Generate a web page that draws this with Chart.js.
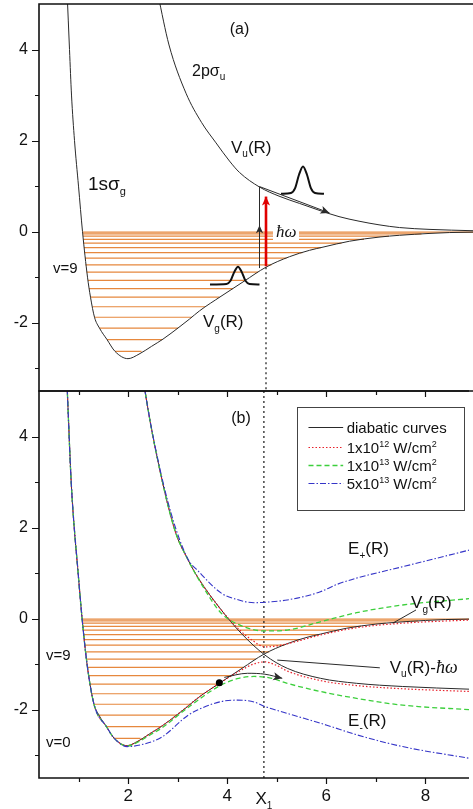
<!DOCTYPE html>
<html>
<head>
<meta charset="utf-8">
<script src="https://cdn.jsdelivr.net/npm/chart.js@4.4.1/dist/chart.umd.min.js"></script>
<style>
html, body { margin: 0; padding: 0; background: #fff; overflow: hidden; }
#wrap { position: relative; width: 473px; height: 809px; }
canvas { position: absolute; left: 0; }
#ca { top: 0; }
#cb { top: 380px; }
</style>
</head>
<body>
<div id="wrap">
  <canvas id="cb" width="473" height="429"></canvas>
  <canvas id="ca" width="473" height="392"></canvas>
</div>
<script>
const FONT = '"Liberation Sans", Arial, sans-serif';
const SERIF = '"Liberation Serif", "Times New Roman", serif';

// axes
const xMin = 0.2, xMax = 8.88, yMin = -3.5, yMax = 5;
const xTickVals = [1, 2, 3, 4, 5, 6, 7, 8];
const xTickLabels = ['', '2', '', '4', '', '6', '', '8'];
const yTickVals = [-3, -2, -1, 0, 1, 2, 3, 4];
const yTickLabels = ['', '-2', '', '0', '', '2', '', '4'];
const X1 = 4.74;

// 1s sigma_g : Vg(R)
const vgR = [0.76, 0.81, 0.85, 0.91, 0.99, 1.07, 1.17, 1.23, 1.31, 1.41, 1.56, 1.72, 1.98, 2.2, 2.45, 2.68, 3.0, 3.21, 3.41, 3.84, 4.3, 4.74, 5.21, 5.61, 5.88, 6.41, 7.0, 7.41, 8.0, 8.41, 8.9];
const vgE = [5.3, 4.0, 3.0, 2.0, 1.0, 0.0, -1.0, -1.44, -1.88, -2.12, -2.37, -2.63, -2.79, -2.69, -2.52, -2.36, -2.1, -1.92, -1.74, -1.42, -1.09, -0.78, -0.55, -0.41, -0.34, -0.21, -0.12, -0.08, -0.04, -0.02, -0.01];

// 2p sigma_u : Vu(R)  (panel a)
const vuR = [2.58, 2.8, 3.14, 3.45, 3.74, 4.01, 4.21, 4.61, 5.0, 5.41, 5.8, 6.2, 6.6, 7.0, 7.41, 8.0, 8.9];
const vuE = [5.2, 4.1, 3.04, 2.4, 1.95, 1.55, 1.3, 0.98, 0.78, 0.62, 0.47, 0.33, 0.23, 0.15, 0.09, 0.05, 0.02];

// Vu(R) - hw  (panel b, diabatic)
const vdR = [2.30, 2.34, 2.54, 2.94, 3.21, 3.41, 3.88, 4.28, 4.76, 5.21, 5.88, 6.61, 7.54, 8.9];
const vdE = [5.3, 5.0, 3.78, 1.95, 1.29, 0.9, 0.19, -0.32, -0.80, -1.09, -1.31, -1.42, -1.49, -1.55];

// adiabatic curves, 1e12 W/cm2
const r12upR = [2.30, 2.34, 2.54, 2.94, 3.21, 3.41, 3.88, 4.28, 4.5, 4.76, 5.0, 5.4, 5.88, 6.61, 7.54, 8.9];
const r12upE = [5.3, 5.0, 3.78, 1.95, 1.29, 0.9, 0.19, -0.28, -0.47, -0.62, -0.6, -0.5, -0.36, -0.2, -0.1, -0.03];
const r12loR = [0.76, 0.85, 0.99, 1.07, 1.17, 1.31, 1.56, 1.72, 1.98, 2.2, 2.45, 2.68, 3.0, 3.41, 3.84, 4.3, 4.55, 4.76, 5.0, 5.21, 5.88, 6.61, 7.54, 8.9];
const r12loE = [5.3, 3.0, 1.0, 0.0, -1.0, -1.88, -2.37, -2.63, -2.79, -2.69, -2.52, -2.36, -2.1, -1.74, -1.42, -1.12, -0.99, -0.95, -1.03, -1.15, -1.36, -1.47, -1.54, -1.6];

// 1e13 W/cm2
const g13upR = [2.30, 2.34, 2.54, 2.94, 3.21, 3.5, 3.88, 4.34, 4.76, 5.21, 5.88, 6.61, 7.54, 8.9];
const g13upE = [5.3, 5.0, 3.78, 1.95, 1.29, 0.72, 0.12, -0.18, -0.27, -0.25, -0.07, 0.13, 0.30, 0.44];
const g13loR = [0.76, 0.85, 0.99, 1.07, 1.17, 1.31, 1.56, 1.72, 1.98, 2.2, 2.45, 2.68, 3.21, 3.84, 4.2, 4.54, 4.9, 5.21, 5.88, 6.61, 7.54, 8.9];
const g13loE = [5.3, 3.0, 1.0, 0.0, -1.0, -1.88, -2.37, -2.63, -2.80, -2.71, -2.55, -2.4, -1.95, -1.48, -1.32, -1.27, -1.31, -1.42, -1.6, -1.75, -1.9, -2.0];

// 5e13 W/cm2
const b53upR = [2.30, 2.34, 2.54, 2.87, 3.21, 3.41, 3.88, 4.2, 4.54, 4.76, 5.21, 5.88, 6.21, 6.61, 7.54, 8.9];
const b53upE = [5.3, 5.0, 3.8, 2.3, 1.3, 1.05, 0.56, 0.42, 0.35, 0.36, 0.41, 0.59, 0.75, 0.89, 1.14, 1.51];
const b53loR = [0.76, 0.85, 0.99, 1.07, 1.17, 1.31, 1.56, 1.72, 1.98, 2.3, 2.68, 3.21, 3.41, 3.88, 4.2, 4.54, 4.76, 5.21, 6.01, 6.61, 7.54, 8.9];
const b53loE = [5.3, 3.0, 1.0, 0.0, -1.0, -1.88, -2.37, -2.63, -2.81, -2.76, -2.6, -2.12, -2.0, -1.82, -1.79, -1.83, -1.93, -2.08, -2.34, -2.55, -2.81, -3.07];

// vibrational levels v=0..17
const levelE = [-2.63, -2.37, -2.12, -1.88, -1.65, -1.44, -1.25, -1.07, -0.89, -0.73, -0.58, -0.46, -0.35, -0.25, -0.17, -0.10, -0.05, -0.01];
const levelL = [1.72, 1.56, 1.41, 1.31, 1.27, 1.23, 1.20, 1.18, 1.15, 1.13, 1.12, 1.11, 1.10, 1.09, 1.09, 1.08, 1.08, 1.07];
const levelR = [2.25, 2.66, 2.98, 3.26, 3.52, 3.81, 4.08, 4.33, 4.58, 4.85, 5.15, 5.47, 5.84, 6.25, 6.7, 7.2, 7.85, 8.88];

// wave packets (panel a)
const wp1R = [3.62, 3.95, 4.03, 4.1, 4.18, 4.26, 4.33, 4.41, 4.61];
const wp1E = [-1.16, -1.15, -1.08, -0.9, -0.77, -0.9, -1.08, -1.15, -1.16];
const wp2R = [5.04, 5.24, 5.32, 5.40, 5.48, 5.56, 5.64, 5.72, 5.9];
const wp2E = [0.83, 0.85, 0.95, 1.25, 1.43, 1.25, 0.95, 0.85, 0.83];

// arrows
const upArrowR = [4.61, 4.61], upArrowE = [-0.8, 0.14];
const slideR = [4.61, 4.61, 6.01], slideE = [0.1, 0.99, 0.41];
const photonR = [X1, X1], photonE = [-0.76, 0.77];
const moveR = [3.94, 4.41, 4.76, 5.11], moveE = [-1.29, -1.2, -1.22, -1.31];
const dotR = [3.84], dotE = [-1.41];
const ptrVgR = [7.81, 7.34], ptrVgE = [0.19, -0.10];
const ptrVuR = [5.01, 7.08], ptrVuE = [-0.91, -1.08];

const legendNames = ['diabatic curves', '1x10^{12} W/cm^{2}', '1x10^{13} W/cm^{2}', '5x10^{13} W/cm^{2}'];

const BLACK = { borderColor: '#2a2a2a', borderWidth: 1 };
const RED = { borderColor: '#e8202a', borderWidth: 1.2, borderDash: [1.5, 2] };
const GREEN = { borderColor: '#3ccf3c', borderWidth: 1.3, borderDash: [5, 3] };
const BLUE = { borderColor: '#3535c8', borderWidth: 1.1, borderDash: [6, 2, 1.5, 2] };
const ORANGE = '#e6883e';

function pts(xs, ys) { return xs.map((x, i) => ({ x: x, y: ys[i] })); }

function curve(xs, ys, style, extra) {
  return Object.assign({
    data: pts(xs, ys), showLine: true, pointRadius: 0, fill: false,
    cubicInterpolationMode: 'monotone'
  }, style, extra || {});
}

function straight(xs, ys, style, extra) {
  return Object.assign({
    data: pts(xs, ys), showLine: true, pointRadius: 0, fill: false, tension: 0
  }, style, extra || {});
}

function levelsData() {
  const d = [];
  levelE.forEach((e, i) => {
    d.push({ x: levelL[i], y: e });
    d.push({ x: levelR[i], y: e });
    d.push({ x: levelR[i] + 0.001, y: null });
  });
  return d;
}

function drawRich(ctx, str, x, y, size, align, family) {
  family = family || FONT;
  const parts = [];
  const re = /([_^])\{([^}]*)\}|\*([^*]*)\*|([^_^*]+)/g;
  let m;
  while ((m = re.exec(str))) {
    if (m[4]) parts.push({ t: m[4], k: 0 });
    else if (m[3]) parts.push({ t: m[3], k: 0, it: true });
    else parts.push({ t: m[2], k: m[1] === '_' ? -1 : 1 });
  }
  let w = 0;
  parts.forEach(p => {
    const s = p.k ? Math.round(size * 0.6) : size;
    p.font = p.it ? 'italic ' + (size + 1) + 'px ' + SERIF : s + 'px ' + family;
    ctx.font = p.font;
    p.w = ctx.measureText(p.t).width;
    w += p.w;
  });
  let cx = align === 'center' ? x - w / 2 : align === 'right' ? x - w : x;
  const base = y + size * 0.36;
  ctx.textAlign = 'left';
  ctx.textBaseline = 'alphabetic';
  parts.forEach(p => {
    ctx.font = p.font;
    const dy = p.k === -1 ? size * 0.28 : p.k === 1 ? -size * 0.42 : 0;
    ctx.fillText(p.t, cx, base + dy);
    cx += p.w;
  });
  return w;
}

const framePlugin = {
  id: 'frame',
  afterDatasetsDraw(chart, args, opts) {
    const { ctx, chartArea: a, scales: { x, y } } = chart;
    ctx.save();
    ctx.strokeStyle = '#111';
    ctx.lineWidth = 1.6;
    ctx.beginPath();
    ctx.moveTo(a.left, a.top); ctx.lineTo(a.right, a.top);
    ctx.moveTo(a.left, a.top - 0.8); ctx.lineTo(a.left, a.bottom + 0.8);
    ctx.moveTo(a.left, a.bottom); ctx.lineTo(a.right, a.bottom);
    ctx.stroke();
    ctx.lineWidth = 1.2;
    ctx.beginPath();
    yTickVals.forEach(v => {
      const py = Math.round(y.getPixelForValue(v)) + 0.5;
      const len = v % 2 === 0 ? 7 : 4;
      ctx.moveTo(a.left - len, py); ctx.lineTo(a.left, py);
    });
    if (opts.xTicks) {
      xTickVals.forEach(v => {
        const px = Math.round(x.getPixelForValue(v)) + 0.5;
        const len = v % 2 === 0 ? 6 : 4;
        ctx.moveTo(px, a.top); ctx.lineTo(px, a.top + len);
        ctx.moveTo(px, a.bottom); ctx.lineTo(px, a.bottom + len);
      });
    }
    ctx.stroke();
    ctx.restore();
  }
};

const arrowPlugin = {
  id: 'arrows',
  afterDatasetsDraw(chart) {
    const ctx = chart.ctx;
    chart.data.datasets.forEach((ds, i) => {
      if (!ds.arrow) return;
      const el = chart.getDatasetMeta(i).data;
      const p1 = el[el.length - 2], p2 = el[el.length - 1];
      const ang = Math.atan2(p2.y - p1.y, p2.x - p1.x);
      const L = ds.arrow, W = ds.arrow * 0.45;
      ctx.save();
      ctx.fillStyle = ds.borderColor;
      ctx.translate(p2.x, p2.y);
      ctx.rotate(ang);
      ctx.beginPath();
      ctx.moveTo(0, 0); ctx.lineTo(-L, -W); ctx.lineTo(-L * 0.75, 0); ctx.lineTo(-L, W);
      ctx.closePath();
      ctx.fill();
      ctx.restore();
    });
  }
};

const textPlugin = {
  id: 'texts',
  afterDatasetsDraw(chart, args, opts) {
    const { ctx, scales: { x, y } } = chart;
    ctx.save();
    ctx.fillStyle = '#111';
    (opts.items || []).forEach(it => {
      const px = x.getPixelForValue(it.x), py = y.getPixelForValue(it.y);
      if (it.box) {
        ctx.fillStyle = '#fff';
        ctx.fillRect(px - 3, py - it.size * 0.55, it.box, it.size * 1.1);
        ctx.fillStyle = '#111';
      }
      drawRich(ctx, it.t, px, py, it.size, it.align || 'left');
    });
    if (opts.legend) {
      const lg = opts.legend;
      const l = x.getPixelForValue(lg.x0), r = x.getPixelForValue(lg.x1);
      const t = y.getPixelForValue(lg.y0), b = y.getPixelForValue(lg.y1);
      ctx.strokeStyle = '#444';
      ctx.lineWidth = 1;
      ctx.strokeRect(Math.round(l) + 0.5, Math.round(t) + 0.5, Math.round(r - l), Math.round(b - t));
      const styles = [BLACK, RED, GREEN, BLUE];
      legendNames.forEach((name, i) => {
        const py = Math.round(y.getPixelForValue(lg.rows[i])) + 0.5;
        ctx.save();
        ctx.strokeStyle = styles[i].borderColor;
        ctx.lineWidth = styles[i].borderWidth;
        ctx.setLineDash(styles[i].borderDash || []);
        ctx.beginPath();
        ctx.moveTo(x.getPixelForValue(lg.s0), py);
        ctx.lineTo(x.getPixelForValue(lg.s1), py);
        ctx.stroke();
        ctx.restore();
        ctx.fillStyle = '#111';
        drawRich(ctx, name, x.getPixelForValue(lg.tx), py, 15, 'left');
      });
    }
    if (opts.x1) {
      const px = x.getPixelForValue(X1);
      drawRich(ctx, 'X_{1}', px, chart.chartArea.bottom + 20, 17, 'center');
    }
    ctx.restore();
  }
};

function scales(showX) {
  return {
    x: {
      type: 'linear', min: xMin, max: xMax, display: showX,
      grid: { display: false, drawTicks: false }, border: { display: false },
      afterBuildTicks: s => { s.ticks = xTickVals.map(v => ({ value: v })); },
      afterFit: s => { s.height = showX ? 31 : 0; s.paddingLeft = 0; s.paddingRight = 0; },
      ticks: {
        padding: 8, color: '#111', autoSkip: false, maxRotation: 0,
        font: { size: 17, family: FONT },
        callback: (v, i) => xTickLabels[i]
      }
    },
    y: {
      type: 'linear', min: yMin, max: yMax,
      grid: { display: false, drawTicks: false }, border: { display: false },
      afterBuildTicks: s => { s.ticks = yTickVals.map(v => ({ value: v })); },
      afterFit: s => { s.width = 39; s.paddingTop = 0; s.paddingBottom = 0; },
      ticks: {
        padding: 11, color: '#111', autoSkip: false,
        font: { size: 16, family: FONT },
        callback: (v, i) => yTickLabels[i]
      }
    }
  };
}

function makeChart(id, datasets, pad, showX, pluginOpts) {
  return new Chart(document.getElementById(id), {
    type: 'scatter',
    data: { datasets: datasets },
    options: {
      responsive: false, animation: false,
      layout: { padding: pad },
      plugins: Object.assign({ legend: { display: false }, tooltip: { enabled: false } }, pluginOpts),
      scales: scales(showX)
    },
    plugins: [framePlugin, arrowPlugin, textPlugin]
  });
}

const DOTTED = { borderColor: '#000', borderWidth: 1.1, borderDash: [2, 3] };

// panel (a) — dataset 0 is drawn on top
makeChart('ca', [
  straight(photonR, photonE, { borderColor: '#e00000', borderWidth: 2.6 }, { arrow: 9 }),
  straight(upArrowR, upArrowE, BLACK, { arrow: 8 }),
  straight(slideR, slideE, BLACK, { arrow: 9 }),
  curve(wp1R, wp1E, { borderColor: '#111', borderWidth: 2 }),
  curve(wp2R, wp2E, { borderColor: '#111', borderWidth: 2 }),
  curve(vuR, vuE, BLACK),
  curve(vgR, vgE, BLACK),
  straight([X1, X1], [-0.78, yMin], DOTTED),
  { data: levelsData(), showLine: true, pointRadius: 0, tension: 0, borderColor: ORANGE, borderWidth: 1.2 }
], { top: 4, bottom: 1, left: 0, right: 0 }, false, {
  frame: { xTicks: false },
  texts: {
    items: [
      { t: '(a)', x: 4.21, y: 4.47, size: 16, align: 'center' },
      { t: '2pσ_{u}', x: 3.26, y: 3.55, size: 16 },
      { t: 'V_{u}(R)', x: 4.04, y: 1.87, size: 17 },
      { t: '1sσ_{g}', x: 1.18, y: 1.07, size: 19 },
      { t: 'v=9', x: 0.48, y: -0.80, size: 15 },
      { t: 'V_{g}(R)', x: 3.48, y: -1.97, size: 17 },
      { t: '*ħω*', x: 4.94, y: 0.0, size: 16, box: 26 }
    ]
  }
});

// panel (b)
makeChart('cb', [
  { data: pts(dotR, dotE), showLine: false, pointRadius: 3.5, pointBackgroundColor: '#000', pointBorderWidth: 0 },
  curve(moveR, moveE, BLACK, { arrow: 9 }),
  straight(ptrVgR, ptrVgE, BLACK),
  straight(ptrVuR, ptrVuE, BLACK),
  curve(b53upR, b53upE, BLUE),
  curve(b53loR, b53loE, BLUE),
  curve(g13upR, g13upE, GREEN),
  curve(g13loR, g13loE, GREEN),
  curve(r12upR, r12upE, RED),
  curve(r12loR, r12loE, RED),
  curve(vdR, vdE, BLACK),
  curve(vgR, vgE, BLACK),
  straight([X1, X1], [yMax, yMin], DOTTED),
  { data: levelsData(), showLine: true, pointRadius: 0, tension: 0, borderColor: ORANGE, borderWidth: 1.2 }
], { top: 11, bottom: 0, left: 0, right: 0 }, true, {
  frame: { xTicks: true },
  texts: {
    items: [
      { t: '(b)', x: 4.08, y: 4.43, size: 16 },
      { t: 'E_{+}(R)', x: 6.44, y: 1.55, size: 17 },
      { t: 'V_{g}(R)', x: 7.71, y: 0.37, size: 17 },
      { t: 'V_{u}(R)-*ħω*', x: 7.28, y: -1.05, size: 17 },
      { t: 'E_{-}(R)', x: 6.44, y: -2.23, size: 17 },
      { t: 'v=9', x: 0.34, y: -0.78, size: 15 },
      { t: 'v=0', x: 0.34, y: -2.70, size: 15 }
    ],
    legend: { x0: 5.40, x1: 8.77, y0: 4.65, y1: 2.39, rows: [4.22, 3.78, 3.38, 2.98], s0: 5.64, s1: 6.34, tx: 6.41 },
    x1: true
  }
});
</script>
</body>
</html>
